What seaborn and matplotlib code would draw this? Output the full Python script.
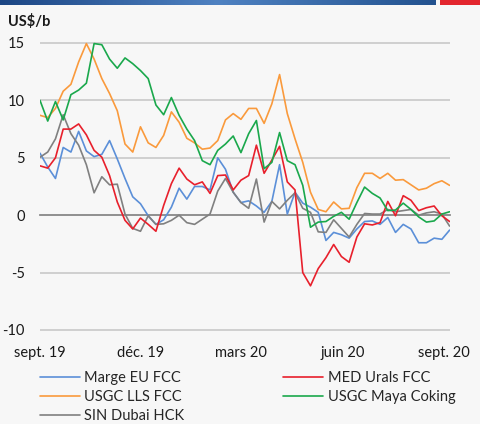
import numpy as np
import pandas as pd
import matplotlib
matplotlib.use('Agg')
import matplotlib.pyplot as plt
import seaborn as sns

# weekly margins, US$/b
blue = [5.4, 4.2, 3.2, 5.9, 5.5, 7.3, 5.6, 5.1, 5.3, 6.5,
        4.9, 3.2, 1.6, 1.0, -0.05, -0.8, -0.4, 0.7, 2.35, 1.4,
        2.5, 2.5, 2.2, 5.0, 4.0, 2.0, 1.1, 1.25, 0.8, 0.25,
        1.2, 4.4, 0.1, 2.0, 1.05, 0.7, 0.25, -2.2, -1.5, -1.7,
        -2.0, -1.2, -0.55, -0.5, -0.8, -0.2, -1.5, -0.8, -1.2, -2.4,
        -2.4, -2.0, -2.1, -1.3]
red = [4.3, 4.1, 5.0, 7.5, 7.5, 7.95, 7.0, 5.65, 5.05, 3.45,
       1.15, -0.45, -1.2, -0.25, -0.8, -1.4, 0.85, 2.75, 4.1, 3.15,
       2.65, 2.9, 1.9, 3.45, 3.5, 2.2, 3.05, 3.45, 6.1, 3.65,
       4.8, 6.0, 2.9, 2.2, -5.0, -6.15, -4.65, -3.7, -2.55, -3.6,
       -4.1, -1.9, -0.75, -0.85, -0.65, 1.2, -0.05, 1.7, 1.3, 0.4,
       0.65, 0.8, -0.05, -0.55]
orange = [8.7, 8.5, 9.3, 10.8, 11.4, 13.35, 14.95, 13.6, 11.9, 10.6,
          9.1, 6.2, 5.5, 7.7, 6.3, 5.9, 6.95, 9.0, 8.1, 6.7,
          6.3, 5.75, 5.85, 6.5, 8.3, 8.85, 8.35, 9.3, 9.3, 8.0,
          9.7, 12.25, 8.85, 6.65, 4.6, 2.0, 0.5, 0.3, 1.15, 0.55,
          0.6, 2.4, 3.65, 3.65, 3.2, 3.65, 3.05, 3.1, 2.65, 2.2,
          2.35, 2.75, 3.0, 2.6]
green = [10.0, 8.2, 9.9, 8.3, 10.5, 10.9, 11.5, 14.95, 14.85, 13.6,
         12.8, 13.7, 13.2, 12.6, 11.9, 9.6, 8.75, 10.25, 8.7, 7.5,
         6.5, 4.75, 4.4, 5.65, 6.2, 6.9, 5.45, 7.1, 8.25, 4.05,
         4.6, 7.2, 4.75, 4.4, 2.6, -1.05, -0.6, -0.55, -0.1, 0.25,
         -0.35, 1.1, 2.45, 1.9, 1.5, 0.4, 0.45, 1.05, 0.5, -0.15,
         -0.6, -0.5, 0.1, 0.3]
gray = [5.05, 5.5, 6.65, 8.75, 7.1, 6.1, 4.4, 1.95, 3.35, 2.65,
        2.7, 0.1, -1.15, -1.4, -0.05, -0.8, -0.75, -0.45, 0.0, -0.65,
        -0.8, -0.35, 0.1, 2.1, 3.2, 2.0, 1.1, 0.6, 3.15, -0.6,
        1.2, 0.55, 1.3, 1.95, 0.6, 0.25, -1.45, -1.5, -0.4, -1.15,
        -1.9, -0.8, 0.15, 0.1, 0.1, 0.5, 0.3, 0.4, 0.5, 0.0,
        0.2, 0.3, 0.1, -0.95]

names = ['Marge EU FCC', 'USGC LLS FCC', 'SIN Dubai HCK', 'MED Urals FCC', 'USGC Maya Coking']
colors = ['#5b8fd8', '#fa9a3c', '#808080', '#e8202c', '#1aa84c']
tick_dates = ['2019-09-01', '2019-12-01', '2020-03-01', '2020-06-01', '2020-09-01']
tick_labels = ['sept. 19', 'déc. 19', 'mars 20', 'juin 20', 'sept. 20']
y_ticks = [-10, -5, 0, 5, 10, 15]

dates = pd.date_range('2019-09-01', periods=len(blue), freq='7D')
series = dict(zip(names, [blue, orange, gray, red, green]))
df = pd.concat([pd.DataFrame({'date': dates, 'value': v, 'series': n})
                for n, v in series.items()], ignore_index=True)

sns.set_style('white')
plt.rcParams['font.family'] = ['Lato', 'DejaVu Sans']
bg = '#f7f7f7'

fig = plt.figure(figsize=(4.81, 4.24), dpi=100, facecolor=bg)
ax = fig.add_axes([40/481, 0.219, 409.6/481, 0.6823])
ax.set_facecolor(bg)

sns.lineplot(data=df, x='date', y='value', hue='series', hue_order=names,
             palette=dict(zip(names, colors)), linewidth=1.2, ax=ax, zorder=3)

ax.set_xlim(pd.Timestamp('2019-09-01'), dates[-1])
ax.set_ylim(-10.1, 15.1)
ax.set_yticks(y_ticks)
ax.set_yticklabels([str(t) for t in y_ticks])
ax.set_xticks(pd.to_datetime(tick_dates))
ax.set_xticklabels(tick_labels)
ax.set_xlabel('')
ax.set_ylabel('')

ax.grid(axis='y', color='#cccccc', linewidth=1.3)
ax.grid(axis='x', visible=False)
ax.set_axisbelow(True)
for s in ['top', 'right', 'left']:
    ax.spines[s].set_visible(False)
ax.spines['bottom'].set_position(('data', 0))
ax.spines['bottom'].set_color('#8c8c8c')
ax.spines['bottom'].set_linewidth(1.3)
ax.tick_params(axis='x', direction='out', length=4.5, width=1.2, color='#8c8c8c',
               pad=89.5, labelsize=10.5, labelcolor='#1a1a1a')
ax.tick_params(axis='y', length=0, pad=11, labelsize=10.5, labelcolor='#1a1a1a')

handles, labels = ax.get_legend_handles_labels()
ax.get_legend().remove()
fig.legend(handles, labels, ncol=2, loc='upper left', bbox_to_anchor=(40/481, 1 - 371/424),
           frameon=False, fontsize=10.5, handlelength=2.75, handletextpad=0.3,
           columnspacing=6.75, labelspacing=0.36, borderpad=0, borderaxespad=0)

fig.text(8/481, 1 - 26/424, 'US$/b', fontsize=10.5, fontweight='bold', color='#1a1a1a')

# top banner: blue gradient + red block
band = fig.add_axes([0, 1 - 5/424, 436/481, 5/424])
grad = matplotlib.colors.LinearSegmentedColormap.from_list('band', ['#1c4684', '#4f82c2', '#23528f'])
band.imshow(np.linspace(0, 1, 256)[None, :], aspect='auto', cmap=grad)
band.axis('off')
red_box = fig.add_axes([440/481, 1 - 5/424, 41/481, 5/424])
red_box.set_facecolor('#e3262e')
red_box.set_xticks([])
red_box.set_yticks([])
for s in red_box.spines.values():
    s.set_visible(False)

fig.savefig('out.png', dpi=100, facecolor=bg)
